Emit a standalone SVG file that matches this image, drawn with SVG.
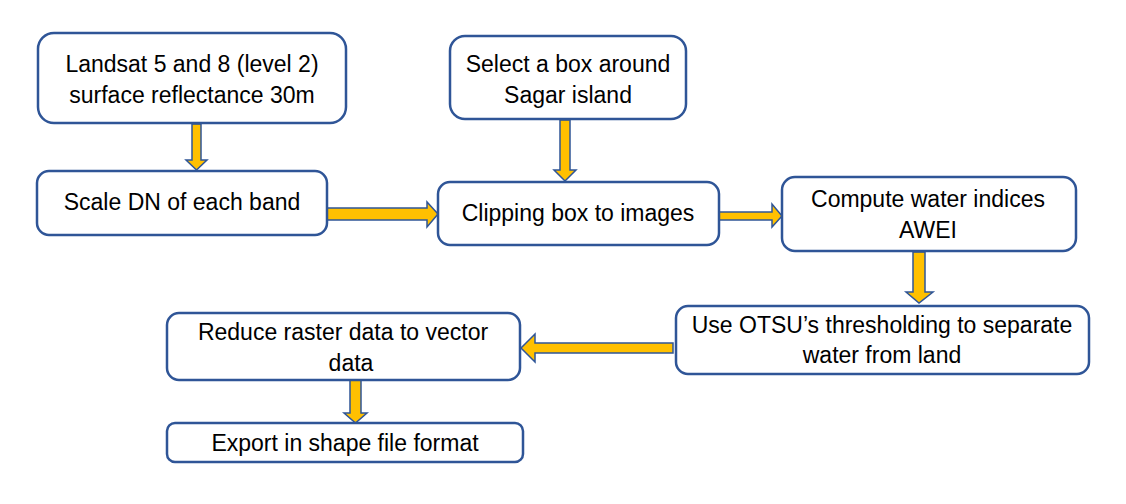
<svg xmlns="http://www.w3.org/2000/svg" width="1126" height="504" viewBox="0 0 1126 504">
<style>
.box{fill:#fff;stroke:#2F5597;stroke-width:2.5}
.arr{fill:#FFC000;stroke:#2F5597;stroke-width:1.5;stroke-linejoin:miter}
text{font-family:"Liberation Sans",Arial,sans-serif;font-size:23px;fill:#000;text-anchor:middle}
</style>
<rect width="1126" height="504" fill="#fff"/>
<g id="connectors">
<path class="arr" d="M192,124 H201 V160 H207 L196.5,170 L186,160 H192 Z"/>
<path class="arr" d="M560,120 H570 V170 H576 L565,181 L554,170 H560 Z"/>
<path class="arr" d="M327,208 H427 V202 L438,214 L427,227 V220 H327 Z"/>
<path class="arr" d="M719,212 H772 V204 L782,216 L772,227 V220 H719 Z"/>
<path class="arr" d="M913,252 H925 V292 H933 L919,303 L906,292 H913 Z"/>
<path class="arr" d="M673,343 H535 V334 L521,348 L535,362 V353 H673 Z"/>
<path class="arr" d="M350,380 H361 V413 H367 L355.5,423 L344,413 H350 Z"/>
</g>
<g id="n1"><rect class="box" x="38" y="33" width="308" height="90" rx="16"/><text x="192" y="72">Landsat 5 and 8 (level 2)</text><text x="192" y="103">surface reflectance 30m</text></g>
<g id="n2"><rect class="box" x="37" y="171" width="290" height="64" rx="12"/><text x="182" y="210">Scale DN of each band</text></g>
<g id="n3"><rect class="box" x="450" y="36" width="236" height="83" rx="15"/><text x="568" y="72">Select a box around</text><text x="568" y="103">Sagar island</text></g>
<g id="n4"><rect class="box" x="438" y="182" width="281" height="63" rx="12"/><text x="578" y="221">Clipping box to images</text></g>
<g id="n5"><rect class="box" x="782" y="177" width="294" height="74" rx="13"/><text x="928" y="207">Compute water indices</text><text x="928" y="238">AWEI</text></g>
<g id="n6"><rect class="box" x="676" y="306" width="413" height="68" rx="12"/><text x="882" y="333">Use OTSU’s thresholding to separate</text><text x="882" y="363">water from land</text></g>
<g id="n7"><rect class="box" x="167" y="313" width="353" height="67" rx="12"/><text x="343" y="340">Reduce raster data to vector</text><text x="351" y="371">data</text></g>
<g id="n8"><rect class="box" x="167" y="423" width="356" height="39" rx="8"/><text x="345" y="451">Export in shape file format</text></g>
</svg>
